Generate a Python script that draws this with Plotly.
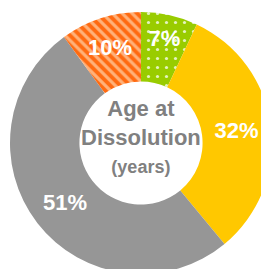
import plotly.graph_objects as go

categories = ["7%", "32%", "51%", "10%"]
values = [7, 32, 51, 10]
colors = ["#99CC00", "#FFC800", "#969696", "#FF6A10"]
pattern_shapes = [".", "", "", "\\"]
pattern_fg = ["#E4F3BE", "#FFC800", "#969696", "#FFB27A"]

W, H = 282, 286
cx, cy, r = 141, 143, 131

fig = go.Figure(go.Pie(
    values=values,
    text=["<b>" + c + "</b>" for c in categories],
    textinfo="text",
    sort=False,
    direction="clockwise",
    rotation=0,
    hole=0.47,
    marker=dict(
        colors=colors,
        line=dict(width=0),
        pattern=dict(shape=pattern_shapes, fgcolor=pattern_fg, bgcolor=colors,
                     size=[9, 8, 8, 7], solidity=[0.1, 0.3, 0.3, 0.45],
                     fillmode="replace"),
    ),
    textposition="inside",
    insidetextorientation="horizontal",
    insidetextfont=dict(family="Liberation Sans, Arial", size=22, color="white"),
    domain=dict(x=[(cx - r) / W, (cx + r) / W], y=[(H - cy - r) / H, (H - cy + r) / H]),
    hoverinfo="skip",
    showlegend=False,
))

fig.add_annotation(
    x=cx / W, y=(H - 136) / H, xref="paper", yref="paper",
    text="<b>Age at<br>Dissolution<br><span style='font-size:18px'>(years)</span></b>",
    showarrow=False, align="center",
    font=dict(family="Liberation Sans, Arial", size=22, color="#808080"),
)

fig.update_layout(
    width=W, height=H,
    margin=dict(l=0, r=0, t=0, b=0),
    paper_bgcolor="white", plot_bgcolor="white",
)

fig.write_html(
    "out.html",
    config={"displayModeBar": False, "staticPlot": True},
    post_script="document.body.style.margin='0';document.body.style.overflow='hidden';document.documentElement.style.overflow='hidden';",
)
